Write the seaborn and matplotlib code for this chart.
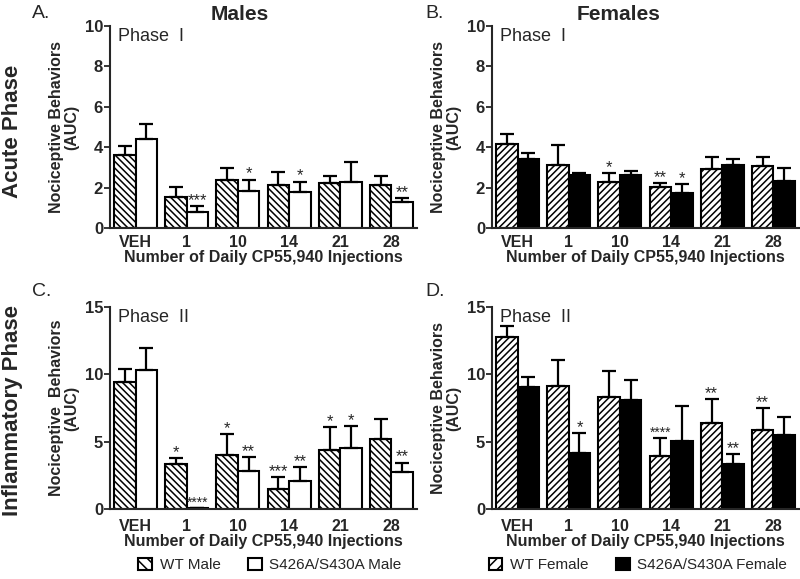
import numpy as np
import pandas as pd
import seaborn as sns
import matplotlib.pyplot as plt
from matplotlib.patches import Patch

# x categories (number of daily CP55,940 injections)
days = ["VEH", "1", "10", "14", "21", "28"]

# A. males, phase I
wt_m1 = [3.6, 1.52, 2.38, 2.13, 2.22, 2.12]
wt_m1_err = [0.45, 0.5, 0.6, 0.63, 0.33, 0.45]
ko_m1 = [4.4, 0.78, 1.85, 1.78, 2.3, 1.3]
ko_m1_err = [0.75, 0.33, 0.55, 0.52, 0.95, 0.2]
wt_m1_sig = ["", "", "", "", "", ""]
ko_m1_sig = ["", "***", "*", "*", "", "**"]

# B. females, phase I
wt_f1 = [4.15, 3.12, 2.3, 2.05, 2.92, 3.05]
wt_f1_err = [0.52, 1.0, 0.42, 0.16, 0.6, 0.46]
ko_f1 = [3.44, 2.64, 2.6, 1.72, 3.1, 2.35]
ko_f1_err = [0.25, 0.1, 0.23, 0.48, 0.3, 0.6]
wt_f1_sig = ["", "", "*", "**", "", ""]
ko_f1_sig = ["", "", "", "*", "", ""]

# C. males, phase II
wt_m2 = [9.45, 3.35, 4.0, 1.5, 4.35, 5.22]
wt_m2_err = [0.95, 0.42, 1.57, 0.9, 1.75, 1.45]
ko_m2 = [10.3, 0.08, 2.8, 2.08, 4.5, 2.75]
ko_m2_err = [1.65, 0.0, 1.05, 1.06, 1.65, 0.7]
wt_m2_sig = ["", "*", "*", "***", "*", ""]
ko_m2_sig = ["", "****", "**", "**", "*", "**"]

# D. females, phase II
wt_f2 = [12.8, 9.15, 8.3, 3.95, 6.4, 5.87]
wt_f2_err = [0.8, 1.95, 1.97, 1.35, 1.75, 1.6]
ko_f2 = [9.08, 4.18, 8.1, 5.05, 3.32, 5.52]
ko_f2_err = [0.75, 1.45, 1.5, 2.6, 0.76, 1.3]
wt_f2_sig = ["", "", "", "****", "**", "**"]
ko_f2_sig = ["", "*", "", "", "**", ""]

sns.set_style("ticks")
plt.rcParams['font.family'] = ['Liberation Sans', 'DejaVu Sans']
plt.rcParams['hatch.linewidth'] = 1.1

fig = plt.figure(figsize=(8, 5.79), dpi=100)

W, H = 800, 579
def add_ax(left, top, right, bottom):
    return fig.add_axes([left / W, 1 - bottom / H, (right - left) / W, (bottom - top) / H])

axA = add_ax(110, 26, 417, 228)
axB = add_ax(492, 26, 799, 228)
axC = add_ax(110, 307, 417, 509)
axD = add_ax(492, 307, 799, 509)


def panel(ax, wt, wt_err, ko, ko_err, wt_sig, ko_sig, hatch, ko_color, ymax, yticks,
          phase, ylab, xpad):
    df = pd.DataFrame({
        "day": days * 2,
        "geno": ["WT"] * 6 + ["KO"] * 6,
        "value": list(wt) + list(ko),
    })
    sns.barplot(data=df, x="day", y="value", hue="geno", order=days,
                hue_order=["WT", "KO"], palette={"WT": "white", "KO": ko_color},
                edgecolor="black", linewidth=1.5, width=0.84, gap=0,
                errorbar=None, legend=False, saturation=1, ax=ax)
    for bar in ax.containers[0]:
        bar.set_hatch(hatch)
    for cont, err, sig in [(ax.containers[0], wt_err, wt_sig), (ax.containers[1], ko_err, ko_sig)]:
        xs = [b.get_x() + b.get_width() / 2 for b in cont]
        hs = [b.get_height() for b in cont]
        ax.errorbar(xs, hs, yerr=[np.zeros(len(err)), err], fmt="none",
                    ecolor="black", elinewidth=1.6, capsize=5, capthick=1.6, zorder=1)
        for x, h, e, s in zip(xs, hs, err, sig):
            if s:
                fs = 10 if len(s) == 4 else 12
                ax.annotate(s, (x, h + e), xytext=(0, -1.5), textcoords="offset points",
                            ha="center", va="bottom", fontsize=fs)
    ax.set_xlim(-0.5, 5.5)
    ax.set_ylim(0, ymax)
    ax.set_yticks(yticks)
    ax.set_xlabel("Number of Daily CP55,940 Injections", fontsize=11.5,
                  fontweight="bold", labelpad=0)
    ax.set_ylabel(ylab, fontsize=11.5, fontweight="bold", linespacing=1.05)
    ax.yaxis.set_label_coords(-0.1, 0.5)
    ax.tick_params(axis="x", length=0, pad=xpad)
    ax.tick_params(axis="y", length=4, width=1.3, pad=1)
    for lab in ax.get_xticklabels():
        lab.set_fontweight("bold")
        lab.set_fontsize(11.5)
    for lab in ax.get_yticklabels():
        lab.set_fontweight("bold")
        lab.set_fontsize(12)
    for sp in ["left", "bottom"]:
        ax.spines[sp].set_linewidth(1.5)
    sns.despine(ax=ax)
    ax.text(0.025, 0.99, phase, transform=ax.transAxes, ha="left", va="top",
            fontsize=13)


panel(axA, wt_m1, wt_m1_err, ko_m1, ko_m1_err, wt_m1_sig, ko_m1_sig,
      "\\\\\\\\\\", "white", 10, [0, 2, 4, 6, 8, 10], "Phase  I",
      "Nociceptive Behaviors\n(AUC)", 5)
panel(axB, wt_f1, wt_f1_err, ko_f1, ko_f1_err, wt_f1_sig, ko_f1_sig,
      "/////", "black", 10, [0, 2, 4, 6, 8, 10], "Phase  I",
      "Nociceptive Behaviors\n(AUC)", 5)
panel(axC, wt_m2, wt_m2_err, ko_m2, ko_m2_err, wt_m2_sig, ko_m2_sig,
      "\\\\\\\\\\", "white", 15, [0, 5, 10, 15], "Phase  II",
      "Nociceptive  Behaviors\n(AUC)", 7)
panel(axD, wt_f2, wt_f2_err, ko_f2, ko_f2_err, wt_f2_sig, ko_f2_sig,
      "/////", "black", 15, [0, 5, 10, 15], "Phase  II",
      "Nociceptive Behaviors\n(AUC)", 7)

# panel letters and titles
fig.text(32 / W, 1 - 13 / H, "A.", fontsize=14, va="center", ha="left")
fig.text(425 / W, 1 - 13 / H, "B.", fontsize=14, va="center", ha="left")
fig.text(32 / W, 1 - 291 / H, "C.", fontsize=14, va="center", ha="left")
fig.text(425 / W, 1 - 291 / H, "D.", fontsize=14, va="center", ha="left")
fig.text(240 / W, 1 - 15 / H, "Males", fontsize=15, fontweight="bold", ha="center", va="center")
fig.text(619 / W, 1 - 15 / H, "Females", fontsize=15, fontweight="bold", ha="center", va="center")
fig.text(13 / W, 1 - 131 / H, "Acute Phase", fontsize=16, fontweight="bold",
         rotation=90, ha="center", va="center")
fig.text(13 / W, 1 - 411 / H, "Inflammatory Phase", fontsize=16, fontweight="bold",
         rotation=90, ha="center", va="center")

# legends
male_handles = [Patch(facecolor="white", edgecolor="black", hatch="\\\\\\", linewidth=1.5),
                Patch(facecolor="white", edgecolor="black", linewidth=1.5)]
female_handles = [Patch(facecolor="white", edgecolor="black", hatch="///", linewidth=1.5),
                  Patch(facecolor="black", edgecolor="black", linewidth=1.5)]
for handles, labels, xc in [(male_handles, ["WT Male", "S426A/S430A Male"], 270),
                            (female_handles, ["WT Female", "S426A/S430A Female"], 638)]:
    fig.legend(handles, labels, loc="center", bbox_to_anchor=(xc / W, 1 - 565 / H),
               ncol=2, frameon=False, fontsize=11, handlelength=0.9, handleheight=0.9,
               handletextpad=0.5, columnspacing=1.8, borderpad=0)

fig.savefig("out.png", dpi=100)
